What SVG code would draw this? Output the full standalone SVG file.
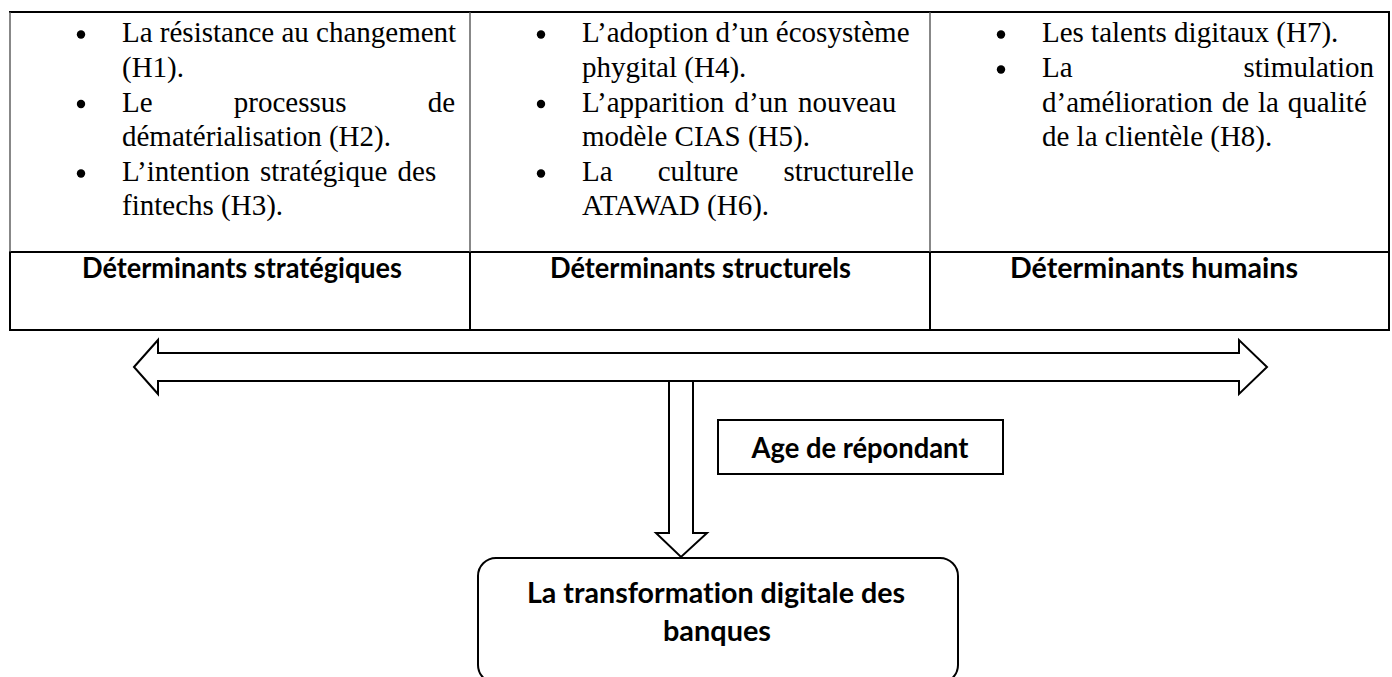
<svg xmlns="http://www.w3.org/2000/svg" width="1392" height="677" viewBox="0 0 1392 677">
<style>
.bl{font-family:"Liberation Serif","Times New Roman",serif;font-size:29px;fill:#000}
.hd{font-family:Lato,"Liberation Sans",sans-serif;font-weight:bold;font-size:28px;fill:#000;text-anchor:middle;font-variant-ligatures:none;font-feature-settings:"liga" 0,"clig" 0}
.ln{stroke:#000;stroke-width:2;fill:none}
.thin{stroke:#555;stroke-width:1.4;fill:none}
.box{stroke:#000;stroke-width:2;fill:#fff}
.arr{stroke:#000;stroke-width:2;fill:#fff;stroke-linejoin:miter}
</style>
<rect width="1392" height="677" fill="#fff"/>
<g id="table">
  <line class="ln" x1="9" y1="12" x2="1390" y2="12"/>
  <line class="ln" x1="9" y1="252" x2="1390" y2="252"/>
  <line class="ln" x1="9" y1="330" x2="1390" y2="330"/>
  <line class="thin" x1="10" y1="12" x2="10" y2="252"/>
  <line class="thin" x1="470" y1="12" x2="470" y2="252"/>
  <line class="thin" x1="930" y1="12" x2="930" y2="252"/>
  <line class="ln" x1="1389" y1="12" x2="1389" y2="252"/>
  <line class="ln" x1="10" y1="252" x2="10" y2="330"/>
  <line class="ln" x1="470" y1="252" x2="470" y2="330"/>
  <line class="ln" x1="930" y1="252" x2="930" y2="330"/>
  <line class="ln" x1="1389" y1="252" x2="1389" y2="330"/>
</g>
<g id="list-strategiques">
  <circle cx="81" cy="34.5" r="4.2"/>
  <circle cx="81" cy="104" r="4.2"/>
  <circle cx="81" cy="173.5" r="4.2"/>
  <text class="bl" x="122" y="42">La résistance au changement</text>
  <text class="bl" x="122" y="76.5">(H1).</text>
  <text class="bl" x="122" y="111.5" word-spacing="73.9">Le processus de</text>
  <text class="bl" x="122" y="146">dématérialisation (H2).</text>
  <text class="bl" x="122" y="180.5" word-spacing="3">L’intention stratégique des</text>
  <text class="bl" x="122" y="215">fintechs (H3).</text>
</g>
<g id="list-structurels">
  <circle cx="541" cy="34.5" r="4.2"/>
  <circle cx="541" cy="104" r="4.2"/>
  <circle cx="541" cy="173.5" r="4.2"/>
  <text class="bl" x="582" y="42">L’adoption d’un écosystème</text>
  <text class="bl" x="582" y="76.5">phygital (H4).</text>
  <text class="bl" x="582" y="111.5" word-spacing="3">L’apparition d’un nouveau</text>
  <text class="bl" x="582" y="146">modèle CIAS (H5).</text>
  <text class="bl" x="582" y="180.5" word-spacing="37.9">La culture structurelle</text>
  <text class="bl" x="582" y="215">ATAWAD (H6).</text>
</g>
<g id="list-humains">
  <circle cx="1001" cy="34.5" r="4.2"/>
  <circle cx="1001" cy="69.5" r="4.2"/>
  <text class="bl" x="1042" y="42">Les talents digitaux (H7).</text>
  <text class="bl" x="1042" y="76.5" word-spacing="163.6">La stimulation</text>
  <text class="bl" x="1042" y="111.5" word-spacing="1.7">d’amélioration de la qualité</text>
  <text class="bl" x="1042" y="146">de la clientèle (H8).</text>
</g>
<g id="det-strategiques">
  <text class="hd" x="242" y="278" textLength="320" lengthAdjust="spacingAndGlyphs">Déterminants stratégiques</text>
</g>
<g id="det-structurels">
  <text class="hd" x="700.5" y="278" textLength="301" lengthAdjust="spacingAndGlyphs">Déterminants structurels</text>
</g>
<g id="det-humains">
  <text class="hd" x="1154" y="278" textLength="288" lengthAdjust="spacingAndGlyphs">Déterminants humains</text>
</g>
<g id="connectors">
  <polygon class="arr" points="134,367 158,340 158,353 1239,353 1239,340 1267,367 1239,394 1239,381 158,381 158,394"/>
  <polygon class="arr" points="669,381 669,533 656,533 681,557 707,533 693,533 693,381"/>
</g>
<g id="age">
  <rect class="box" x="718" y="420" width="285" height="54"/>
  <text class="hd" x="860" y="458" textLength="217" lengthAdjust="spacingAndGlyphs">Age de répondant</text>
</g>
<g id="transformation">
  <rect class="box" x="478" y="558" width="480" height="125" rx="18" ry="18"/>
  <text class="hd" x="716" y="603" textLength="378" lengthAdjust="spacingAndGlyphs">La transformation digitale des</text>
  <text class="hd" x="717" y="641" textLength="108" lengthAdjust="spacingAndGlyphs">banques</text>
</g>
</svg>
